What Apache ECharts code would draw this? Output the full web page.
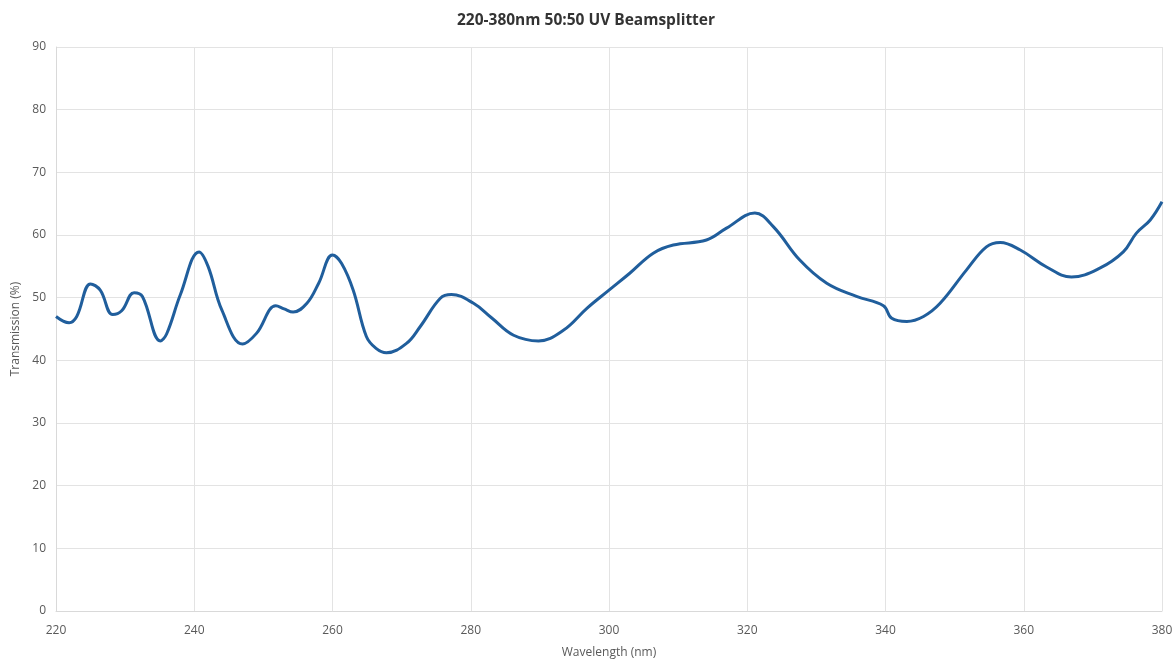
<!DOCTYPE html>
<html>
<head>
<meta charset="utf-8">
<script src="https://cdn.jsdelivr.net/npm/echarts@6/dist/echarts.min.js"></script>
<style>
html,body{margin:0;padding:0;background:#fff;}
#chart{width:1172px;height:666px;}
</style>
</head>
<body>
<div id="chart"></div>
<script>
var titleText = "220-380nm 50:50 UV Beamsplitter";
var xAxisName = "Wavelength (nm)";
var yAxisName = "Transmission (%)";
var wavelengths = [220, 221.9, 223, 225, 226.4, 228.2, 229.5, 231.3, 232.5, 235.1, 236, 238, 240.7, 242, 244, 247, 249, 251.8, 253, 254.3, 256.3, 258, 260, 261.3, 263, 264.9, 266.3, 267.8, 270.7, 272.7, 275.6, 277.2, 280.4, 283, 286.2, 289.8, 293.4, 296.8, 300, 303, 306.4, 309.3, 314.1, 317, 321.1, 323.8, 327.6, 331.5, 335.8, 339.7, 340.9, 343.1, 345.5, 347.9, 351.7, 354.6, 356.6, 359.5, 363.3, 366.9, 371, 374.4, 376.3, 378.3, 380];
var transmission = [47.0, 46.0, 47.0, 52.2, 51.2, 47.3, 47.9, 50.8, 50.2, 43.1, 44.2, 50.5, 57.3, 55.0, 48.0, 42.6, 44.3, 48.7, 48.2, 47.7, 49.1, 52.3, 56.8, 55.5, 51.2, 43.8, 41.9, 41.2, 42.7, 45.4, 49.9, 50.5, 49.1, 46.8, 44.0, 43.1, 44.8, 48.3, 51.2, 53.9, 57.1, 58.4, 59.2, 61.1, 63.5, 61.3, 56.0, 52.3, 50.2, 48.7, 46.7, 46.2, 47.0, 49.1, 54.4, 58.1, 58.8, 57.6, 54.9, 53.3, 54.7, 57.3, 60.3, 62.4, 65.3];
var xTicks = [220, 240, 260, 280, 300, 320, 340, 360, 380];
var yTicks = [0, 10, 20, 30, 40, 50, 60, 70, 80, 90];

var seriesData = wavelengths.map(function (w, i) { return [w, transmission[i]]; });

var chart = echarts.init(document.getElementById('chart'), null, {renderer: 'canvas'});
var font = "'Open Sans', 'Noto Sans', sans-serif";
chart.setOption({
  animation: false,
  backgroundColor: '#ffffff',
  title: {
    text: titleText,
    left: 'center',
    top: 8,
    textStyle: {fontFamily: font, fontSize: 15.5, fontWeight: 'bold', color: '#333333'}
  },
  grid: {left: 56, right: 10, top: 47, bottom: 55, containLabel: false, outerBoundsMode: 'none'},
  xAxis: {
    type: 'value',
    min: xTicks[0],
    max: xTicks[xTicks.length - 1],
    interval: 20,
    name: xAxisName,
    nameLocation: 'middle',
    nameGap: 36,
    nameTextStyle: {fontFamily: font, fontSize: 12, color: '#595959'},
    axisLine: {show: true, lineStyle: {color: '#d9d9d9'}},
    axisTick: {show: false},
    axisLabel: {fontFamily: font, fontSize: 12, color: '#595959', margin: 14},
    splitLine: {show: true, lineStyle: {color: '#e3e3e3'}}
  },
  yAxis: {
    type: 'value',
    min: yTicks[0],
    max: yTicks[yTicks.length - 1],
    interval: 10,
    name: yAxisName,
    nameLocation: 'middle',
    nameGap: 27,
    nameTextStyle: {fontFamily: font, fontSize: 12, color: '#595959'},
    axisLine: {show: true, lineStyle: {color: '#d9d9d9'}},
    axisTick: {show: false},
    axisLabel: {fontFamily: font, fontSize: 12, color: '#595959', margin: 10},
    splitLine: {show: true, lineStyle: {color: '#e3e3e3'}}
  },
  series: [{
    type: 'line',
    data: seriesData,
    smooth: 0.4,
    showSymbol: false,
    lineStyle: {color: '#205e9c', width: 3}
  }]
});
</script>
</body>
</html>
